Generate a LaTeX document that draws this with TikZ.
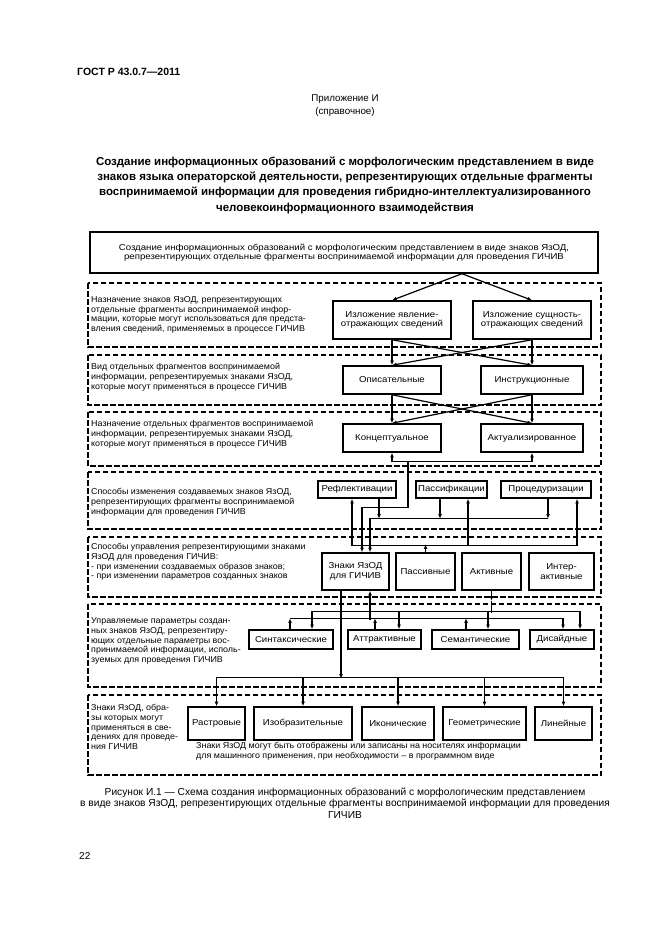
\documentclass[tikz,border=0pt]{standalone}
\usepackage{fontspec}
\setmainfont{Liberation Sans}
\newfontfamily\diagfont[FakeStretch=1.12]{Liberation Sans}
\newfontfamily\zonefont[FakeStretch=1.05]{Liberation Sans}
\usetikzlibrary{arrows.meta,positioning}

\begin{document}
\begin{tikzpicture}[
  x=1pt,y=-1pt,
  >={Latex[length=4.6pt,width=3.8pt]},
  zone/.style={draw,line width=1.1pt,dash pattern=on 5.5pt off 2.5pt},
  unit/.style={draw,line width=1.5pt,align=center,inner sep=1pt,
    font=\diagfont\fontsize{8.6}{9.4}\selectfont},
  zonetext/.style={anchor=west,align=left,inner sep=0pt,
    font=\zonefont\fontsize{8.5}{9.8}\selectfont},
  link/.style={line width=1.2pt}
]
\useasboundingbox (0,0) rectangle (661,936);

% page head
\node[anchor=west,inner sep=0pt,font=\bfseries\fontsize{10.5}{12}\selectfont] (gost) at (77,72) {ГОСТ Р 43.0.7—2011};
\node[align=center,font=\fontsize{9.8}{13}\selectfont] (app) at (345,106) {Приложение И\\(справочное)};
\node[align=center,font=\bfseries\fontsize{11.5}{15.3}\selectfont] (title) at (345,185)
  {Создание информационных образований с морфологическим представлением в виде\\
   знаков языка операторской деятельности, репрезентирующих отдельные фрагменты\\
   воспринимаемой информации для проведения гибридно-интеллектуализированного\\
   человекоинформационного взаимодействия};

% dashed zones
\draw[zone] (88,283) rectangle (601,347);
\draw[zone] (88,355) rectangle (601,405);
\draw[zone] (88,412) rectangle (601,466);
\draw[zone] (88,472) rectangle (601,529);
\draw[zone] (88,537) rectangle (601,597);
\draw[zone] (88,604) rectangle (601,687);
\draw[zone] (88,695) rectangle (601,775);

% zone texts
\node[zonetext] (t1) at (91,315) {Назначение знаков ЯзОД, репрезентирующих\\отдельные фрагменты воспринимаемой инфор-\\мации, которые могут использоваться для предста-\\вления сведений, применяемых в процессе ГИЧИВ};
\node[zonetext] (t2) at (91,377) {Вид отдельных фрагментов воспринимаемой\\информации, репрезентируемых знаками ЯзОД,\\которые могут применяться в процессе ГИЧИВ};
\node[zonetext] (t3) at (91,434) {Назначение отдельных фрагментов воспринимаемой\\информации, репрезентируемых знаками ЯзОД,\\которые могут применяться в процессе ГИЧИВ};
\node[zonetext] (t4) at (91,502) {Способы изменения создаваемых знаков ЯзОД,\\репрезентирующих фрагменты воспринимаемой\\информации для проведения ГИЧИВ};
\node[zonetext] (t5) at (91,562) {Способы управления репрезентирующими знаками\\ЯзОД для проведения ГИЧИВ:\\- при изменении создаваемых образов знаков;\\- при изменении параметров созданных знаков};
\node[zonetext] (t6) at (91,641) {Управляемые параметры создан-\\ных знаков ЯзОД, репрезентиру-\\ющих отдельные параметры вос-\\принимаемой информации, исполь-\\зуемых для проведения ГИЧИВ};
\node[zonetext] (t7) at (91,727) {Знаки ЯзОД, обра-\\зы которых могут\\применяться в све-\\дениях для проведе-\\ния ГИЧИВ};
\node[zonetext,anchor=north west] (note) at (196,742) {Знаки ЯзОД могут быть отображены или записаны на носителях информации\\для машинного применения, при необходимости – в программном виде};

% boxes
\node[unit,minimum width=508,minimum height=41] (top) at (344,252.5) {Создание информационных образований с морфологическим представлением в виде знаков ЯзОД,\\репрезентирующих отдельные фрагменты воспринимаемой информации для проведения ГИЧИВ};
\node[unit,minimum width=118,minimum height=38] (izl1) at (392,320) {Изложение явление-\\отражающих сведений};
\node[unit,minimum width=118,minimum height=38] (izl2) at (532,320) {Изложение сущность-\\отражающих сведений};
\node[unit,minimum width=98,minimum height=28] (opis) at (392,380) {Описательные};
\node[unit,minimum width=102,minimum height=28] (instr) at (532,380) {Инструкционные};
\node[unit,minimum width=98,minimum height=28] (konc) at (392,438) {Концептуальное};
\node[unit,minimum width=102,minimum height=28] (akt) at (532,438) {Актуализированное};
\node[unit,minimum width=78,minimum height=17] (refl) at (357,489.5) {Рефлективации};
\node[unit,minimum width=71,minimum height=17] (pasf) at (451.5,489.5) {Пассификации};
\node[unit,minimum width=90,minimum height=17] (proc) at (546,489.5) {Процедуризации};
\node[unit,minimum width=67,minimum height=37] (znaki) at (355.5,571.5) {Знаки ЯзОД\\для ГИЧИВ};
\node[unit,minimum width=59,minimum height=37] (passiv) at (425.5,571.5) {Пассивные};
\node[unit,minimum width=59,minimum height=37] (aktiv) at (491.5,571.5) {Активные};
\node[unit,minimum width=65,minimum height=37] (inter) at (561.5,571.5) {Интер-\\активные};
\node[unit,minimum width=84,minimum height=19] (sint) at (291,639.5) {Синтаксические};
\node[unit,minimum width=73,minimum height=19] (attr) at (384.5,639.5) {Аттрактивные};
\node[unit,minimum width=87,minimum height=19] (sem) at (475.5,639.5) {Семантические};
\node[unit,minimum width=64,minimum height=19] (dis) at (562,639.5) {Дисайдные};
\node[unit,minimum width=57,minimum height=33] (rast) at (216.5,723.5) {Растровые};
\node[unit,minimum width=98,minimum height=33] (izob) at (303,723.5) {Изобразительные};
\node[unit,minimum width=72,minimum height=33] (ikon) at (398,723.5) {Иконические};
\node[unit,minimum width=83,minimum height=33] (geom) at (484.5,723.5) {Геометрические};
\node[unit,minimum width=57,minimum height=33] (lin) at (563.5,723.5) {Линейные};

% head box to first zone
\draw[link,->] ([xshift=118pt]top.south) -- (izl1.north);
\draw[link,->] ([xshift=118pt]top.south) -- (izl2.north);
% cross links
\draw[link,->] (izl1.south) -- (opis.north);
\draw[link,->] (izl1.south) -- (instr.north);
\draw[link,->] (izl2.south) -- (opis.north);
\draw[link,->] (izl2.south) -- (instr.north);
\draw[link,->] (opis.south) -- (konc.north);
\draw[link,->] (opis.south) -- (akt.north);
\draw[link,->] (instr.south) -- (konc.north);
\draw[link,->] (instr.south) -- (akt.north);
% zone 3 to signs
\draw[link,<->] (konc.south) -- ++(0,9) -| (akt.south);
\draw[link,->] ([xshift=16pt]konc.south) ++(0,9) -- ++(0,46) -| ([xshift=6.5pt]znaki.north);
% passive signs to ways of change
\draw[link,->] (passiv.north) -- ++(0,-8);
\draw[link,<->] ([xshift=-5pt]refl.south) -- ++(0,47) -| ([xshift=31pt]proc.south);
\draw[link,<-] ([xshift=16.5pt]pasf.south) -- ++(0,47);
% ways of change to signs
\draw[link,->] ([xshift=22pt]refl.south) -- ++(0,20);
\draw[link,->] ([xshift=-11.5pt]pasf.south) -- ++(0,20);
\draw[link,->] ([xshift=2pt]proc.south) -- ++(0,20);
\draw[link,->] ([xshift=2pt]proc.south) ++(0,20) -| ([xshift=14.5pt]znaki.north);
% parameters
\draw[link,<-] ([xshift=14.5pt]znaki.south) -- ++(0,29);
\draw[link] ([xshift=-1pt]sint.north) ++(0,-11) -- ++(273,0);
\draw[link,->] ([xshift=-1pt]sint.north) -- ++(0,-11);
\draw[link,->] ([xshift=-9.5pt]attr.north) -- ++(0,-11);
\draw[link,->] ([xshift=-9.5pt]sem.north) -- ++(0,-11);
\draw[link,->] ([xshift=1pt]dis.north) ++(0,-11) -- ([xshift=1pt]dis.north);
\draw[link,->] (aktiv.south) -- ++(0,10);
\draw[link] (aktiv.south) ++(0,10) -- ++(0,12);
\draw[link] ([xshift=21pt]sint.north) ++(0,-18) -- ++(268,0);
\draw[link,->] ([xshift=21pt]sint.north) ++(0,-18) -- ([xshift=21pt]sint.north);
\draw[link,->] ([xshift=14.5pt]attr.north) ++(0,-18) -- ([xshift=14.5pt]attr.north);
\draw[link,->] ([xshift=12.5pt]sem.north) ++(0,-18) -- ([xshift=12.5pt]sem.north);
\draw[link,->] ([xshift=18pt]dis.north) ++(0,-18) -- ([xshift=18pt]dis.north);
% signs to image kinds
\draw[link,->] ([xshift=-14.5pt]znaki.south) -- ++(0,88);
\draw[link] ([yshift=29pt]rast.north) -- ([yshift=29pt]lin.north);
\draw[link,->] ([yshift=29pt]rast.north) -- (rast.north);
\draw[link,->] ([yshift=29pt]izob.north) -- (izob.north);
\draw[link,->] ([yshift=29pt]ikon.north) -- (ikon.north);
\draw[link,->] ([yshift=29pt]geom.north) -- (geom.north);
\draw[link,->] ([yshift=29pt]lin.north) -- (lin.north);

% caption
\node[align=center,font=\fontsize{10.2}{11.6}\selectfont] (capt) at (345,803)
  {Рисунок И.1 — Схема создания информационных образований с морфологическим представлением\\
   в виде знаков ЯзОД, репрезентирующих отдельные фрагменты воспринимаемой информации для проведения\\
   ГИЧИВ};
\node[anchor=west,inner sep=0pt,font=\fontsize{10}{12}\selectfont] (pg) at (79,856) {22};
\end{tikzpicture}
\end{document}
